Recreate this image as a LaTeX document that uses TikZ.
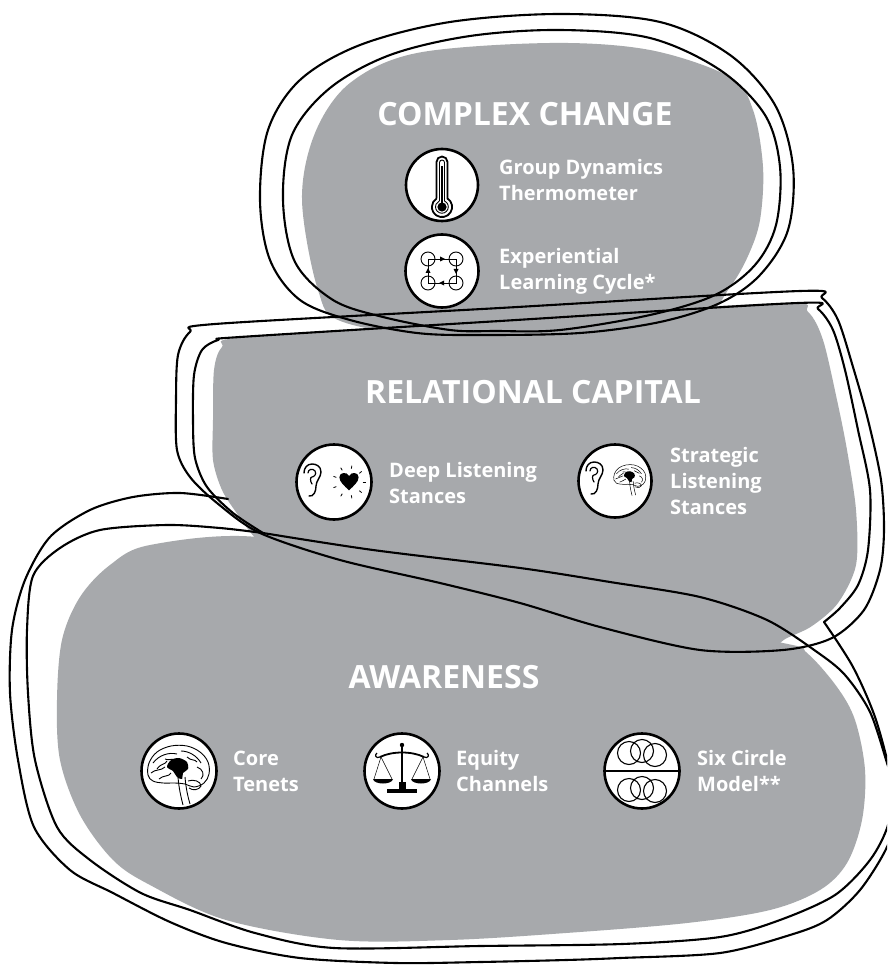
\documentclass[tikz,border=0pt]{standalone}
\usepackage{fontspec}
\setmainfont{Open Sans}
\definecolor{stonegrey}{RGB}{167,169,172}
\tikzset{
  outline/.style={line width=2.1pt, line join=round, line cap=round, draw=black},
  iconcirc/.style={circle, draw=black, line width=2.6pt, fill=white, minimum size=#1, inner sep=0pt},
  titletext/.style={text=white, font=\bfseries\fontsize{32}{36}\selectfont, inner sep=0pt, anchor=base},
  labeltext/.style={text=white, font=\bfseries\fontsize{20}{26}\selectfont, inner sep=0pt, align=left, anchor=west},
  earpic/.pic={
    \draw[line width=1.4pt, line cap=round] (-4,-15) .. controls (1,-16) and (3,-10) .. (3,-5)
      .. controls (3,0) and (8,4) .. (8,9) .. controls (8,15) and (3,17) .. (-1,17)
      .. controls (-6,17) and (-9,13) .. (-9,8);
    \draw[line width=1.2pt, line cap=round] (-5,8) .. controls (-5,12) and (0,13) .. (2,10)
      .. controls (4,7) and (1,4) .. (-1,4) .. controls (-3,4) and (-3,0) .. (-1,-3);
  },
  heartpic/.pic={
    \fill[scale=1.2] (0,-7) .. controls (-4,-3) and (-8,0) .. (-8,4) .. controls (-8,8) and (-2,9) .. (0,5)
      .. controls (2,9) and (8,8) .. (8,4) .. controls (8,0) and (4,-3) .. (0,-7) -- cycle;
    \foreach \a in {0,40,...,320} {\draw[line width=0.8pt] (\a:13.5) -- (\a:16.5);}
  },
  brainpic/.pic={
    \draw plot[smooth cycle, tension=0.6] coordinates {(-31,-4) (-30,8) (-22,19) (-8,25) (8,25) (21,19) (29,9) (30,-3) (25,-12) (15,-16) (6,-13) (-4,-12) (-16,-12) (-26,-10)};
    \draw (-26,8) .. controls (-20,16) and (-10,19) .. (-2,17);
    \draw (2,20) .. controls (10,20) and (18,15) .. (22,8);
    \draw (-28,-2) .. controls (-24,2) and (-18,0) .. (-14,4);
    \draw (-20,-8) .. controls (-16,-4) and (-10,-6) .. (-8,-2);
    \draw (18,4) .. controls (24,2) and (26,-4) .. (22,-8);
    \draw (-14,12) .. controls (-10,10) and (-8,13) .. (-4,11);
    \draw (8,14) .. controls (12,10) and (16,12) .. (18,9);
    \draw (-22,2) .. controls (-18,8) and (-14,6) .. (-12,10);
    \fill plot[smooth cycle] coordinates {(-12,4) (-8,11) (0,13) (8,9) (9,2) (4,-2) (3,-8) (-2,-6) (-6,0)};
    \draw (-1,-6) .. controls (0,-18) and (2,-26) .. (4,-34);
    \draw (6,-6) .. controls (7,-18) and (9,-26) .. (11,-33);
    \draw (9,-10) .. controls (14,-8) and (22,-10) .. (22,-15) .. controls (20,-19) and (14,-20) .. (10,-17);
  },
}
\begin{document}
\begin{tikzpicture}[x=1pt,y=-1pt]
\useasboundingbox (0,0) rectangle (887,965);
\clip (0,0) rectangle (887,965);
\fill[white] (0,0) rectangle (887,965);

% ---------- grey stones ----------
\fill[stonegrey] plot[smooth cycle, tension=0.55] coordinates {(57,700) (62,640) (80,597) (110,565) (150,545) (257,537) (400,570) (600,610) (783,643) (807,653) (837,687) (855,720) (865,770) (862,820) (847,863) (820,890) (770,910) (687,923) (566,933) (450,940) (339,940) (226,920) (150,885) (113,860) (80,815) (60,760)};
\fill[stonegrey] plot[smooth cycle, tension=0.5] coordinates {(213,420) (214,370) (222,347) (245,337) (500,320) (780,303) (808,312) (823,340) (837,400) (847,450) (856,510) (856,565) (838,603) (812,626) (787,638) (750,655) (600,660) (400,620) (290,570) (257,540) (238,515) (222,490) (213,460)};
\fill[stonegrey] plot[smooth cycle, tension=0.55] coordinates {(302,200) (315,133) (350,83) (417,53) (550,43) (650,50) (730,77) (753,110) (763,167) (760,220) (748,256) (730,287) (700,318) (600,335) (450,338) (343,322) (318,290)};

% ---------- outlines ----------
% top stone
\draw[outline] plot[smooth cycle, tension=0.55] coordinates {(260,200) (268,130) (300,80) (360,45) (450,22) (560,14) (660,22) (730,55) (775,105) (793,167) (788,230) (760,275) (720,303) (660,322) (580,333) (480,335) (417,333) (350,320) (300,300) (270,260)};
\draw[outline] plot[smooth cycle, tension=0.55] coordinates {(283,200) (292,135) (330,88) (390,55) (470,36) (560,30) (650,38) (720,70) (765,115) (780,167) (776,225) (755,265) (715,295) (650,315) (560,330) (496,331) (450,330) (383,317) (333,300) (295,262)};
% middle stone, outer loop
\draw[outline] plot[smooth cycle, tension=0.5] coordinates {(177,450) (176,400) (178,355) (190,332) (215,324) (500,308) (800,291) (822,298) (838,320) (853,367) (868,420) (881,480) (884,530) (880,570) (864,610) (832,638) (783,650) (700,650) (600,627) (520,603) (440,583) (340,560) (260,533) (217,503) (190,477)};
% long inner loop (middle inner + bottom inner)
\draw[outline] plot[smooth, tension=0.5] coordinates {(263,533) (233,513) (207,487) (195,458) (193,420) (194,375) (202,350) (218,340) (240,337) (500,321) (798,303) (818,309) (833,330) (845,370) (858,430) (870,490) (868,550) (858,585) (840,608) (824,622)};
\draw[outline] plot[smooth, tension=0.5] coordinates {(824,622) (853,667) (876,720) (892,785) (888,825) (870,860) (835,895) (780,920) (720,937) (622,944) (480,946) (334,948) (255,933) (190,910) (141,893) (90,860) (57,827) (35,760) (28,693) (27,630) (33,576) (60,548) (100,530) (167,525) (220,528) (263,533)};
% bottom stone outer loop
\draw[outline] plot[smooth, tension=0.5] coordinates {(228,499) (180,493) (133,497) (90,510) (50,537) (25,580) (12,630) (10,693) (18,760) (34,827) (70,870) (113,893) (170,922) (226,943) (300,958) (396,963) (480,962) (566,960) (620,958) (720,953) (790,935) (827,920) (860,890) (887,847) (899,805) (887,763) (870,712) (845,675) (817,652) (767,620) (700,597) (610,582) (520,568) (373,550) (263,533)};

% ---------- titles ----------
\node[titletext] (tcc) at (525,126) {COMPLEX CHANGE};
\node[titletext] (trc) at (533,403) {RELATIONAL CAPITAL};
\node[titletext] (taw) at (444,688) {AWARENESS};

% ---------- icons ----------
\node[iconcirc=72pt] (thermo) at (442,185) {};
\node[iconcirc=73pt] (cycle) at (442,271) {};
\node[iconcirc=75pt] (deep) at (334,482) {};
\node[iconcirc=73pt] (strat) at (615,481) {};
\node[iconcirc=75pt] (core) at (179,771) {};
\node[iconcirc=75pt] (equity) at (402,771) {};
\node[iconcirc=75pt] (six) at (642,771) {};

% thermometer
\begin{scope}[shift={(thermo.center)}, yscale=-1]
  \draw[line width=1.8pt] (-5.5,-13.5) -- (-5.5,23) arc[start angle=180, end angle=0, radius=5.5] -- (5.5,-13.5) arc[start angle=57, end angle=-237, radius=10.1];
  \draw[line width=0.9pt] (-2.5,-16) -- (-2.5,22.5) arc[start angle=180, end angle=0, radius=2.5] -- (2.5,-16) arc[start angle=66, end angle=-246, radius=6.4];
  \fill (0,-22) circle (4.6);
  \draw[line width=2pt] (0,-20) -- (0,19);
\end{scope}

% experiential learning cycle
\begin{scope}[shift={(cycle.center)}, yscale=-1]
  \foreach \px/\py in {-14/12, 14/12, -14/-12, 14/-12} {
    \draw[line width=0.9pt] (\px,\py) circle (7);
  }
  \draw[line width=0.8pt] (-14,12) -- (14,12) -- (14,-12) -- (-14,-12) -- cycle;
  \fill (3,12) -- (-2,14.5) -- (-2,9.5) -- cycle;
  \fill (14,-3) -- (11.5,2) -- (16.5,2) -- cycle;
  \fill (-3,-12) -- (2,-9.5) -- (2,-14.5) -- cycle;
  \fill (-14,3) -- (-16.5,-2) -- (-11.5,-2) -- cycle;
\end{scope}

% deep listening: ear + heart
\begin{scope}[shift={(deep.center)}, yscale=-1]
  \pic[transform shape] at (-21,1) {earpic};
  \pic[transform shape] at (15,0) {heartpic};
\end{scope}

% strategic listening: ear + brain
\begin{scope}[shift={(strat.center)}, yscale=-1]
  \pic[transform shape] at (-20,2) {earpic};
  \pic[transform shape, scale=0.52, line width=0.5pt] at (15,3) {brainpic};
\end{scope}

% core tenets brain
\begin{scope}[shift={(core.center)}, yscale=-1]
  \pic[transform shape, line width=0.9pt] at (0,0) {brainpic};
\end{scope}

% equity scales
\begin{scope}[shift={(equity.center)}, yscale=-1]
  \draw[line width=2.2pt] (0,-14) -- (0,24);
  \fill (0,26) circle (2.2);
  \draw[line width=1.8pt] (-22,14) .. controls (-10,20) and (10,20) .. (22,14);
  \draw[line width=1.2pt] (-22,14) .. controls (-26,12) and (-28,16) .. (-25,18);
  \draw[line width=1.2pt] (22,14) .. controls (26,12) and (28,16) .. (25,18);
  \draw[line width=0.5pt] (-21,14) -- (-28,-8) (-21,14) -- (-10,-8) (21,14) -- (10,-8) (21,14) -- (28,-8);
  \fill (-29,-8) .. controls (-28,-14) and (-10,-14) .. (-9,-8) -- cycle;
  \fill (9,-8) .. controls (10,-14) and (28,-14) .. (29,-8) -- cycle;
  \fill (-3.5,-11) rectangle (3.5,-18);
  \fill (-15,-18) rectangle (15,-21.5);
\end{scope}

% six circle model
\begin{scope}[shift={(six.center)}, yscale=-1]
  \draw[line width=1.3pt] (-37,0) -- (37,0);
  \foreach \px/\py in {-13/18, 0/20, 13/16, -13/-19, 0/-17, 13/-20} {
    \draw[line width=1.1pt] (\px,\py) circle (11.5);
  }
\end{scope}

% ---------- labels ----------
\node[labeltext] (lgd) at (499,180) {Group Dynamics\\Thermometer};
\node[labeltext] (lel) at (499,271) {Experiential\\Learning Cycle*};
\node[labeltext] (ldl) at (389,483) {Deep Listening\\Stances};
\node[labeltext] (lsl) at (670,481) {Strategic\\Listening\\Stances};
\node[labeltext] (lct) at (233,771) {Core\\Tenets};
\node[labeltext] (lec) at (456,771) {Equity\\Channels};
\node[labeltext] (lsc) at (697,771) {Six Circle\\Model**};
\end{tikzpicture}
\end{document}
